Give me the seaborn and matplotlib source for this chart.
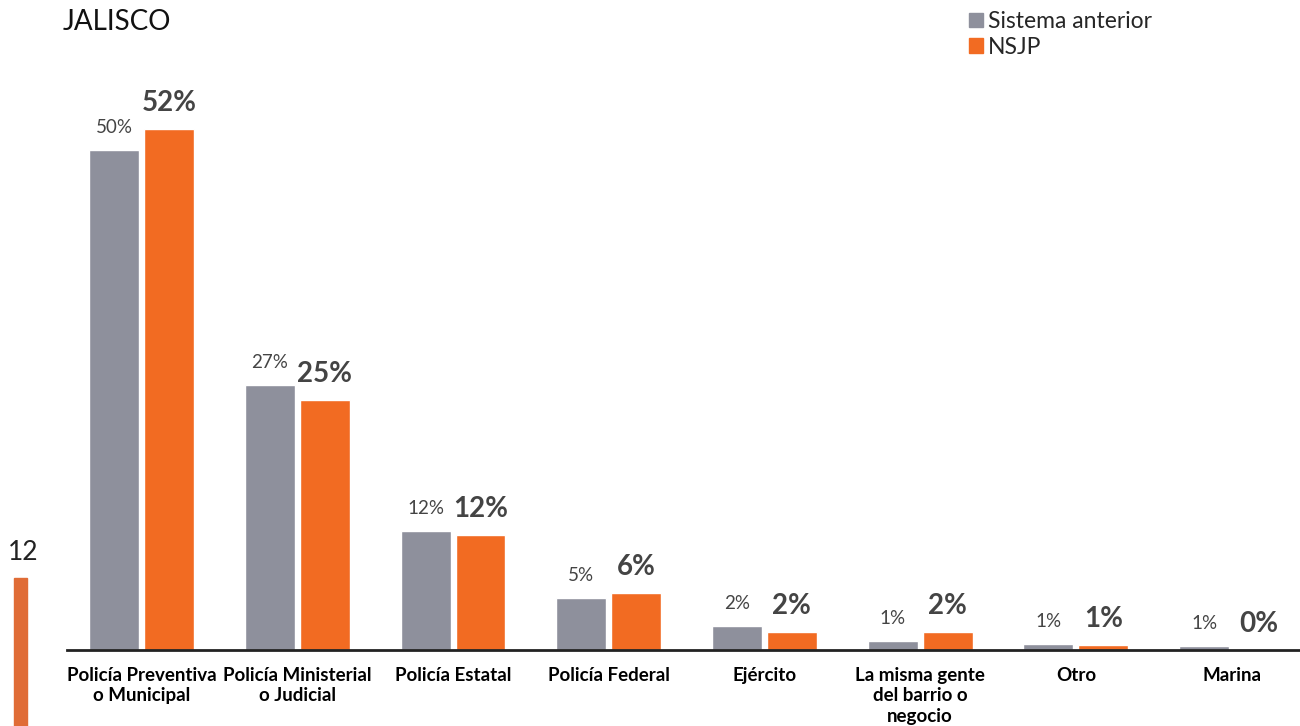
import pandas as pd
import seaborn as sns
import matplotlib.pyplot as plt
from matplotlib.patches import Patch, Rectangle

categorias = ["Policía Preventiva\no Municipal", "Policía Ministerial\no Judicial",
              "Policía Estatal", "Policía Federal", "Ejército",
              "La misma gente\ndel barrio o\nnegocio", "Otro", "Marina"]
sistema = [50.0, 26.5, 11.9, 5.2, 2.4, 0.9, 0.6, 0.4]
nsjp = [52.1, 25.0, 11.5, 5.7, 1.8, 1.8, 0.5, 0.0]
sistema_labels = ["50%", "27%", "12%", "5%", "2%", "1%", "1%", "1%"]
nsjp_labels = ["52%", "25%", "12%", "6%", "2%", "2%", "1%", "0%"]
series = ["Sistema anterior", "NSJP"]

gris = "#8e909c"
naranja = "#f26b22"

df = pd.DataFrame({
    "cat": categorias * 2,
    "val": sistema + nsjp,
    "serie": [series[0]] * len(sistema) + [series[1]] * len(nsjp),
})

sns.set_style("white")
plt.rcParams['font.family'] = ['Lato', 'DejaVu Sans']

fig = plt.figure(figsize=(13, 7.26), dpi=100)
ax = fig.add_axes([67 / 1300, 76 / 726, 1233 / 1300, 550 / 726])

sns.barplot(data=df, x="cat", y="val", hue="serie", palette=[gris, naranja],
            width=0.705, gap=0.09, ax=ax, legend=False, saturation=1)

ax.set_xlim(-0.48, 7.44)
ax.set_ylim(0, 55)
ax.set_xlabel("")
ax.set_ylabel("")
ax.set_yticks([])
for s in ["top", "right", "left"]:
    ax.spines[s].set_visible(False)
ax.spines["bottom"].set_color("#222222")
ax.spines["bottom"].set_linewidth(2)
ax.tick_params(axis="x", length=0, pad=12)
for t in ax.get_xticklabels():
    t.set_fontsize(13.5)
    t.set_fontweight("bold")
    t.set_color("black")
    t.set_verticalalignment("top")
    t.set_multialignment("center")
    t.set_linespacing(1.25)

for bar, lab in zip(ax.containers[0], sistema_labels):
    ax.annotate(lab, (bar.get_x() + bar.get_width() / 2, bar.get_height()),
                xytext=(0, 16), textcoords="offset points", ha="center", va="center",
                fontsize=13.5, color="#444444")
for bar, lab in zip(ax.containers[1], nsjp_labels):
    ax.annotate(lab, (bar.get_x() + bar.get_width() / 2, bar.get_height()),
                xytext=(0, 19), textcoords="offset points", ha="center", va="center",
                fontsize=20, fontweight="bold", color="#444444")

handles = [Patch(color=gris), Patch(color=naranja)]
fig.legend(handles, series, loc="upper left", bbox_to_anchor=(960 / 1300, 1 - 2 / 726),
           frameon=False, fontsize=16.5, handlelength=0.6, handleheight=0.6,
           handletextpad=0.2, labelspacing=0.2, borderaxespad=0)

fig.text(63 / 1300, 1 - 22 / 726, "JALISCO", fontsize=20, color="#111111", va="center")
fig.text(8 / 1300, 1 - 553 / 726, "12", fontsize=19, color="#222222", va="center")
fig.patches.append(Rectangle((14 / 1300, 0), 13 / 1300, 148 / 726,
                             transform=fig.transFigure, color="#e06c36"))

fig.savefig("out.png", dpi=100)
